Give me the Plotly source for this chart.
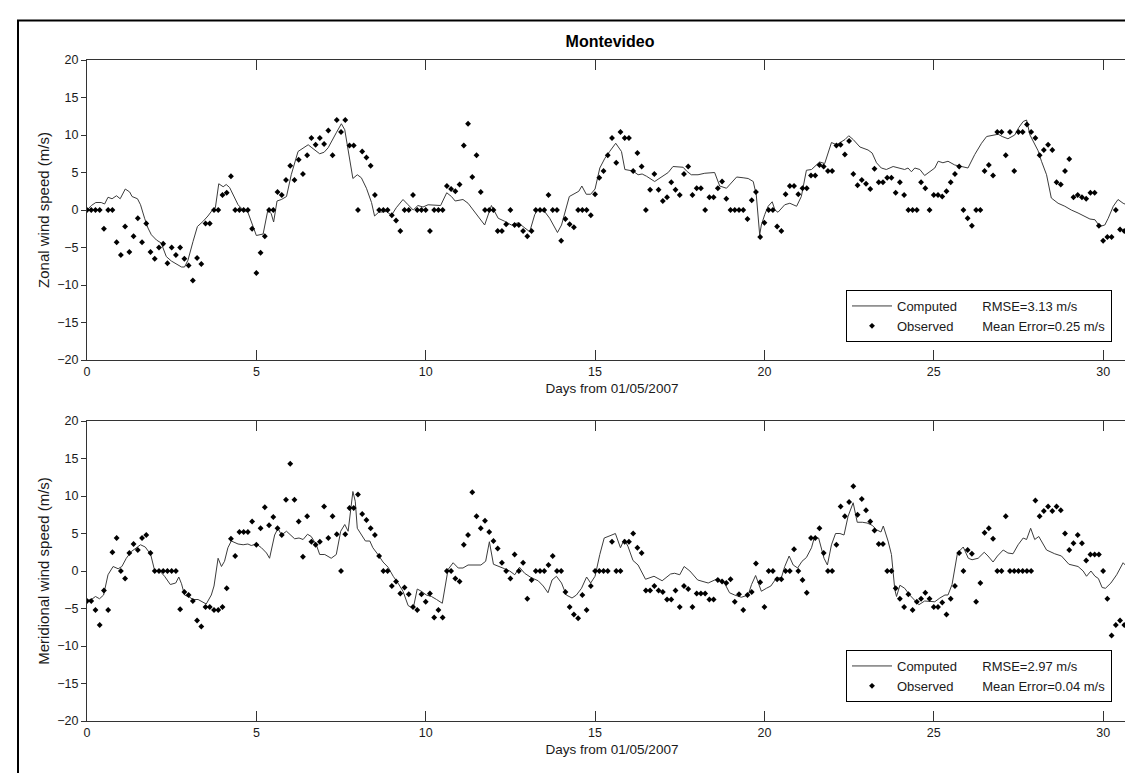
import plotly.graph_objects as go

# ---------------- data ----------------
zonal_comp_day = [0.00,0.13,0.26,0.42,0.52,0.62,0.74,0.87,0.98,1.13,
1.26,1.33,1.49,1.58,1.70,1.80,1.90,2.05,2.19,2.34,
2.49,2.64,2.79,2.88,2.98,3.13,3.26,3.43,3.57,3.72,
3.79,3.89,4.02,4.11,4.21,4.46,4.61,4.75,4.88,5.00,
5.20,5.34,5.44,5.51,5.61,5.74,5.89,6.03,6.23,6.38,
6.53,6.64,6.77,6.87,7.00,7.12,7.36,7.51,7.61,7.76,
7.85,7.98,8.10,8.25,8.40,8.49,8.61,8.84,8.99,9.13,
9.33,9.48,9.63,9.77,9.92,10.07,10.27,10.44,10.62,10.76,
10.87,11.10,11.25,11.50,11.74,11.94,12.14,12.33,12.53,12.73,
12.92,13.07,13.22,13.31,13.51,13.66,13.89,14.01,14.24,14.40,
14.52,14.61,14.74,14.87,15.00,15.14,15.29,15.43,15.61,15.78,
15.88,16.12,16.27,16.39,16.52,16.76,16.96,17.16,17.30,17.45,
17.60,17.70,17.84,18.04,18.24,18.53,18.68,18.88,19.03,19.18,
19.37,19.52,19.67,19.76,19.86,19.91,20.01,20.11,20.23,20.31,
20.40,20.60,20.75,20.95,21.09,21.24,21.39,21.54,21.63,21.78,
21.98,22.13,22.38,22.49,22.62,22.82,23.06,23.18,23.31,23.45,
23.60,23.80,23.99,24.14,24.24,24.34,24.44,24.59,24.73,24.88,
25.03,25.13,25.27,25.42,25.62,25.82,26.01,26.21,26.41,26.56,
26.75,26.90,27.02,27.19,27.39,27.51,27.64,27.74,27.84,27.93,
28.08,28.18,28.33,28.47,28.67,28.87,29.06,29.26,29.46,29.61,
29.76,29.90,30.05,30.15,30.30,30.44,30.59,30.74,30.89,31.0]

zonal_comp_val = [0.0,0.6,1.0,1.0,0.8,1.7,1.5,1.9,1.5,2.8,
2.4,1.8,1.5,0.7,-1.1,-2.4,-3.3,-4.0,-4.4,-6.2,
-6.8,-7.2,-7.6,-7.6,-6.7,-4.2,-2.2,-1.5,-0.8,0.1,
0.3,3.5,3.1,3.4,3.0,0.7,0.0,-0.3,-1.9,-3.4,
-3.2,0.0,-0.5,-1.6,1.2,1.4,1.8,4.7,7.8,8.2,
8.7,8.3,7.8,7.5,7.7,8.3,10.3,11.5,10.7,6.7,
4.2,4.7,4.3,2.9,1.0,-0.8,-0.3,-0.2,-0.7,0.3,
1.4,0.7,0.0,0.6,0.4,0.7,0.6,0.6,2.3,1.8,
1.2,1.4,0.9,-0.6,-2.0,0.6,-1.1,-1.5,-2.0,-1.7,
-2.4,-2.9,-0.6,0.0,-0.2,-1.1,-3.0,-2.0,1.8,2.2,
2.5,3.2,2.1,2.1,2.8,5.6,6.9,7.8,8.9,7.8,
5.4,5.2,4.7,4.8,4.5,3.8,4.4,5.0,5.8,5.8,
5.7,5.2,4.7,4.7,4.9,5.0,3.2,2.9,3.7,4.4,
4.3,4.2,3.8,2.0,-3.3,-2.0,-0.6,0.5,1.1,0.0,
-0.3,0.7,0.9,0.5,1.8,5.3,5.4,6.0,6.4,6.2,
9.0,8.7,9.4,9.9,9.4,8.4,8.0,7.6,6.3,5.6,
5.4,5.8,5.6,5.4,5.6,5.1,5.6,5.4,4.6,5.1,
5.6,6.5,6.3,6.5,6.0,5.8,5.6,7.4,8.9,9.8,
10.0,10.1,9.8,9.5,10.0,11.0,11.8,12.0,10.0,9.2,
7.9,6.5,4.7,1.6,0.9,0.5,0.0,-0.4,-0.8,-1.2,
-1.3,-2.2,-2.0,-1.1,0.5,1.4,0.9,0.6,1.8,3.8]

# observed, 3-hourly samples starting at day 0 (None = no observation)
zonal_obs = [0,0,0,0,-2.5,0,0,-4.3,-6.0,-2.2,
-5.6,-3.5,-1.1,-4.3,-1.8,-5.6,-6.5,-5.0,-4.5,-7.1,
-5.0,-6.0,-5.0,-6.5,-7.4,-9.4,-6.4,-7.2,-1.8,-1.8,
0,0,2.0,2.3,4.5,0,0,0,0,-2.5,
-8.4,-5.7,-3.5,0,0,2.4,2.0,4.0,5.9,4.0,
6.7,4.8,7.3,9.6,8.7,9.6,8.8,10.6,7.3,12.0,
10.4,12.0,8.6,8.6,0,7.8,7.0,5.9,2.0,0,
0,0,-0.7,-1.4,-2.8,0,0,2.0,0,0,
0,-2.8,0,0,0,3.2,2.8,2.5,3.4,8.6,
11.5,4.4,7.3,2.4,0,0,0,-2.8,-2.8,-1.9,
0,-2.0,-2.0,-2.8,-3.5,-2.8,0,0,0,2.0,
0,0,-4.1,-1.2,-1.9,-2.3,0,0,0,-0.7,
2.1,4.3,5.2,7.3,9.6,6.3,10.4,9.6,9.6,5.2,
7.6,5.8,0,2.7,4.8,2.7,1.2,1.7,3.7,2.7,
2.0,4.8,5.8,2.0,2.9,2.9,0,1.7,1.7,2.9,
3.8,1.5,0,0,0,0,-1.2,1.3,2.4,-3.6,
-1.7,0,0,-2.2,-2.8,2.1,3.2,3.2,2.1,2.9,
2.9,4.6,4.6,6.0,5.8,5.2,5.2,8.6,8.7,7.4,
9.2,4.8,3.3,4.0,3.5,2.8,5.5,3.7,3.7,4.3,
4.3,2.3,3.7,2.0,0,0,0,3.7,2.9,0,
2.0,2.0,1.8,2.5,3.7,4.8,5.8,0,-1.1,-2.1,
0,0,5.2,6.0,4.6,10.4,10.4,7.3,10.4,5.2,
10.4,10.4,11.4,10.4,9.6,7.3,8.0,8.7,8.0,3.7,
3.4,5.2,6.8,1.7,2.0,1.7,1.5,2.3,2.3,-2.1,
-4.1,-3.6,-3.6,0,-2.6,-2.8,0,0,None]

merid_comp_day = [0.00,0.13,0.25,0.37,0.49,0.62,0.77,0.92,1.03,1.16,
1.31,1.46,1.58,1.72,1.88,2.00,2.15,2.29,2.46,2.62,
2.71,2.79,2.88,3.03,3.13,3.28,3.40,3.52,3.67,3.75,
3.87,3.97,4.06,4.16,4.26,4.46,4.61,4.75,4.85,5.00,
5.15,5.30,5.39,5.54,5.64,5.74,5.89,6.01,6.13,6.26,
6.38,6.51,6.62,6.77,6.87,7.02,7.21,7.36,7.49,7.61,
7.71,7.85,7.92,7.98,8.10,8.22,8.35,8.44,8.59,8.74,
8.89,9.04,9.18,9.33,9.48,9.63,9.75,9.87,10.02,10.17,
10.32,10.49,10.66,10.81,10.96,11.10,11.25,11.45,11.63,11.77,
11.88,12.00,12.14,12.33,12.48,12.63,12.77,12.92,13.12,13.32,
13.47,13.61,13.73,13.86,14.01,14.15,14.32,14.45,14.60,14.75,
14.87,15.00,15.14,15.27,15.44,15.60,15.75,15.86,15.97,16.12,
16.27,16.49,16.74,16.98,17.23,17.35,17.50,17.63,17.80,18.03,
18.34,18.58,18.82,18.97,19.12,19.32,19.52,19.62,19.74,19.86,
19.91,20.06,20.19,20.36,20.50,20.60,20.73,20.85,20.98,21.11,
21.24,21.39,21.47,21.60,21.76,21.86,21.98,22.10,22.23,22.35,
22.47,22.62,22.74,22.89,23.03,23.18,23.31,23.44,23.51,23.65,
23.75,23.85,23.90,24.00,24.14,24.29,24.44,24.56,24.73,24.88,
25.03,25.18,25.33,25.42,25.54,25.70,25.87,26.02,26.13,26.31,
26.49,26.60,26.75,26.88,27.05,27.19,27.34,27.49,27.64,27.74,
27.86,27.98,28.10,28.33,28.57,28.77,28.99,29.26,29.41,29.51,
29.64,29.76,29.86,29.97,30.07,30.23,30.40,30.59,30.74,30.89,
31.0]

merid_comp_val = [-3.9,-3.8,-3.4,-3.7,-3.2,-0.5,0.6,0.3,0.6,1.7,
2.6,3.1,3.5,3.2,2.2,0.0,0.0,-0.7,-1.8,-1.6,
-0.8,-1.7,-3.2,-3.5,-3.8,-3.8,-4.1,-4.4,-3.2,-2.0,
1.7,0.6,1.3,3.1,4.0,3.6,3.5,3.6,3.4,3.6,
3.1,2.4,1.7,4.8,5.7,4.8,5.3,4.8,4.3,4.4,
4.2,4.9,4.6,3.5,2.2,2.2,1.7,2.2,5.3,6.2,
5.3,10.6,9.3,5.7,4.8,4.0,4.0,3.1,2.2,1.2,
0.5,-0.7,-1.6,-2.7,-4.6,-5.0,-2.4,-2.7,-3.2,-3.4,
-3.8,-4.3,0.2,1.1,0.4,0.4,0.8,0.8,0.8,1.3,
3.9,0.9,0.6,0.3,0.0,-0.5,0.5,-0.3,-0.9,-1.3,
-2.0,-2.9,-1.2,-0.7,-1.6,-3.2,-3.6,-3.2,-2.3,-0.8,
-1.6,-0.7,2.2,4.4,4.7,5.0,3.1,4.2,3.3,1.4,
0.8,-1.1,-0.7,-1.3,-0.4,-0.3,-0.5,0.6,0.0,-1.2,
-1.6,-1.1,-1.6,-2.9,-3.2,-3.5,-3.2,-1.8,-0.6,-2.3,
-2.7,-2.3,-2.0,-0.9,-0.9,0.6,2.0,0.8,0.4,1.3,
1.8,3.1,4.4,4.4,1.7,0.8,3.5,5.0,5.0,4.8,
7.3,9.1,6.5,6.5,6.4,6.1,5.5,5.2,6.0,4.0,
2.2,-2.5,-3.4,-1.9,-2.3,-3.2,-4.0,-4.5,-4.0,-4.0,
-4.1,-3.6,-3.2,-3.2,-1.8,2.4,3.2,1.7,1.5,1.7,
2.5,2.0,1.2,2.0,2.8,2.4,2.3,3.5,4.4,4.2,
5.7,4.2,4.6,2.8,2.3,2.0,0.9,0.6,0.0,-0.7,
0.0,-0.7,-1.0,-2.2,-2.3,-1.6,-0.5,1.1,0.4,1.3,
3.1]

merid_obs = [-4.0,-4.0,-5.2,-7.2,-2.6,-5.2,2.5,4.4,0,-1.0,
2.4,3.6,2.8,4.4,4.8,2.4,0,0,0,0,
0,0,-5.1,-2.8,-3.2,-4.0,-6.6,-7.4,-4.8,-4.8,
-5.2,-5.2,-4.8,-2.3,4.3,2.0,5.2,5.2,5.2,6.6,
3.5,5.7,8.5,6.1,7.2,5.7,4.8,9.5,14.3,9.5,
6.6,1.9,7.3,3.9,3.5,3.9,8.6,4.4,7.3,4.9,
0,4.9,8.4,8.4,10.2,7.6,6.8,5.7,4.8,2.0,
0,0,-2.0,-1.4,-3.0,-2.2,-3.1,-4.8,-5.2,-3.1,
-4.1,-3.0,-6.2,-5.2,-6.2,0,0,-1.0,-1.4,3.5,
4.8,10.5,7.3,5.7,6.7,5.2,4.0,3.0,1.1,0,
-1.0,2.2,0,1.1,-3.7,-1.2,0,0,0,0.8,
2.0,0,0,-2.8,-4.8,-5.8,-6.3,-3.2,-5.2,-2.0,
0,0,0,0,3.9,0,0,3.9,3.9,5.0,
3.1,2.4,-2.6,-2.6,-2.0,-2.6,-2.8,-3.8,-3.8,-2.6,
-4.8,-2.0,-2.4,-4.8,-3.0,-3.0,-3.0,-3.8,-3.8,-1.2,
-1.4,-1.6,-1.1,-4.1,-3.1,-5.2,-3.2,-2.8,1.0,-1.5,
-4.8,0,0,-1.1,-1.1,0,0,2.9,0,-1.2,
-2.9,4.4,4.4,5.7,2.4,0,0,3.5,8.6,7.3,
9.2,11.3,7.5,9.6,8.1,6.6,5.4,3.6,3.6,0,
0,-2.3,-3.7,-4.8,-3.1,-5.2,-4.1,-3.7,-2.9,-3.7,
-4.8,-4.8,-4.2,-5.8,-3.7,-2.0,2.4,0,2.8,2.3,
-4.1,-1.6,5.1,5.7,4.3,0,0,7.3,0,0,
0,0,0,0,9.4,7.3,8.0,8.6,8.0,8.6,
8.1,5.0,2.8,3.7,4.8,3.7,1.4,2.2,2.2,2.2,
0,-3.7,-8.6,-7.2,-6.6,-7.2,-3.2,-2.2,None]

obs_step_days = 0.125  # 3-hourly observations
x_ticks = [0, 5, 10, 15, 20, 25, 30]
y_ticks = [-20, -15, -10, -5, 0, 5, 10, 15, 20]

zonal_stats = ("RMSE=3.13 m/s", "Mean Error=0.25 m/s")
merid_stats = ("RMSE=2.97 m/s", "Mean Error=0.04 m/s")

assert len(zonal_comp_day) == len(zonal_comp_val)
assert len(merid_comp_day) == len(merid_comp_val)

obs_days_z = [i * obs_step_days for i in range(len(zonal_obs))]
obs_days_m = [i * obs_step_days for i in range(len(merid_obs))]

# ---------------- layout geometry ----------------
W, H = 1133, 773
ML, MR, MT, MB = 79, 4, 52, 60
PW = W - ML - MR
PH = H - MT - MB


def pxx(p):
    return (p - ML) / PW


def pxy(p):
    return (H - MB - p) / PH


FONT = "Liberation Sans, Arial, Helvetica, sans-serif"
TXT = "#1a1a1a"
AX = "#333333"
NB = "\u00a0"

line_style = dict(color="#3c3c3c", width=1)
marker_style = dict(symbol="diamond", size=4.5, color="black")

fig = go.Figure()
fig.add_trace(go.Scatter(x=zonal_comp_day, y=zonal_comp_val, mode="lines", line=line_style,
                         name="Computed" + NB * 7 + zonal_stats[0], xaxis="x", yaxis="y",
                         legend="legend", hoverinfo="skip"))
fig.add_trace(go.Scatter(x=obs_days_z, y=zonal_obs, mode="markers", marker=marker_style,
                         name="Observed" + NB * 8 + zonal_stats[1], xaxis="x", yaxis="y",
                         legend="legend", hoverinfo="skip"))
fig.add_trace(go.Scatter(x=merid_comp_day, y=merid_comp_val, mode="lines", line=line_style,
                         name="Computed" + NB * 7 + merid_stats[0], xaxis="x2", yaxis="y2",
                         legend="legend2", hoverinfo="skip"))
fig.add_trace(go.Scatter(x=obs_days_m, y=merid_obs, mode="markers", marker=marker_style,
                         name="Observed" + NB * 8 + merid_stats[1], xaxis="x2", yaxis="y2",
                         legend="legend2", hoverinfo="skip"))
# empty traces so the right-hand (mirror) axes are drawn
fig.add_trace(go.Scatter(x=[], y=[], xaxis="x", yaxis="y3", showlegend=False))
fig.add_trace(go.Scatter(x=[], y=[], xaxis="x2", yaxis="y4", showlegend=False))

top_dom = [1 - 300 / PH, 1]
bot_dom = [0, 300 / PH]

xcommon = dict(range=[0, 31], tickvals=x_ticks, ticks="inside", ticklen=10, tickcolor=AX,
               showline=True, linecolor=AX, linewidth=1, mirror="ticks", showgrid=False,
               zeroline=False, tickfont=dict(family=FONT, size=12.5, color=TXT),
               title=dict(text="Days from 01/05/2007", font=dict(family=FONT, size=13.5, color=TXT),
                          standoff=5))
yleft = dict(range=[-20, 20], tickvals=y_ticks, ticks="outside", ticklen=5, tickcolor=AX,
             showline=True, linecolor=AX, linewidth=1, mirror=False, showgrid=False,
             zeroline=False, tickfont=dict(family=FONT, size=12.5, color=TXT))
yright = dict(range=[-20, 20], tickvals=y_ticks, ticks="inside", ticklen=10, tickcolor=AX,
              showline=True, linecolor=AX, linewidth=1, showgrid=False, zeroline=False,
              showticklabels=False, side="right")

legend_common = dict(xanchor="left", yanchor="top", bgcolor="white", bordercolor="black",
                     borderwidth=1, font=dict(family=FONT, size=13, color=TXT),
                     itemwidth=40, tracegroupgap=0)

fig.update_layout(
    width=W, height=H,
    margin=dict(l=ML, r=MR, t=MT, b=MB, autoexpand=False),
    paper_bgcolor="white", plot_bgcolor="white",
    showlegend=True,
    title=dict(text="<b>Montevideo</b>", x=pxx(602), xref="paper", xanchor="center",
               y=1 - 33 / H, yref="container", yanchor="middle",
               font=dict(family=FONT, size=16, color="black")),
    xaxis=dict(domain=[0, 1], anchor="y", **xcommon),
    yaxis=dict(domain=top_dom, anchor="x",
               title=dict(text="Zonal wind speed (m/s)", font=dict(family=FONT, size=15, color=TXT),
                          standoff=4), **yleft),
    yaxis3=dict(overlaying="y", anchor="x", **yright),
    xaxis2=dict(domain=[0, 1], anchor="y2", **xcommon),
    yaxis2=dict(domain=bot_dom, anchor="x2",
                title=dict(text="Meridional wind speed (m/s)", font=dict(family=FONT, size=15, color=TXT),
                           standoff=4), **yleft),
    yaxis4=dict(overlaying="y2", anchor="x2", **yright),
    legend=dict(x=pxx(838), y=pxy(282), **legend_common),
    legend2=dict(x=pxx(838), y=pxy(642), **legend_common),
    shapes=[
        dict(type="line", xref="paper", yref="paper", x0=pxx(9), x1=pxx(1140),
             y0=pxy(12.5), y1=pxy(12.5), line=dict(color="black", width=2)),
        dict(type="line", xref="paper", yref="paper", x0=pxx(10), x1=pxx(10),
             y0=pxy(12), y1=pxy(780), line=dict(color="black", width=2)),
    ],
)

fig.write_html("out.html")
